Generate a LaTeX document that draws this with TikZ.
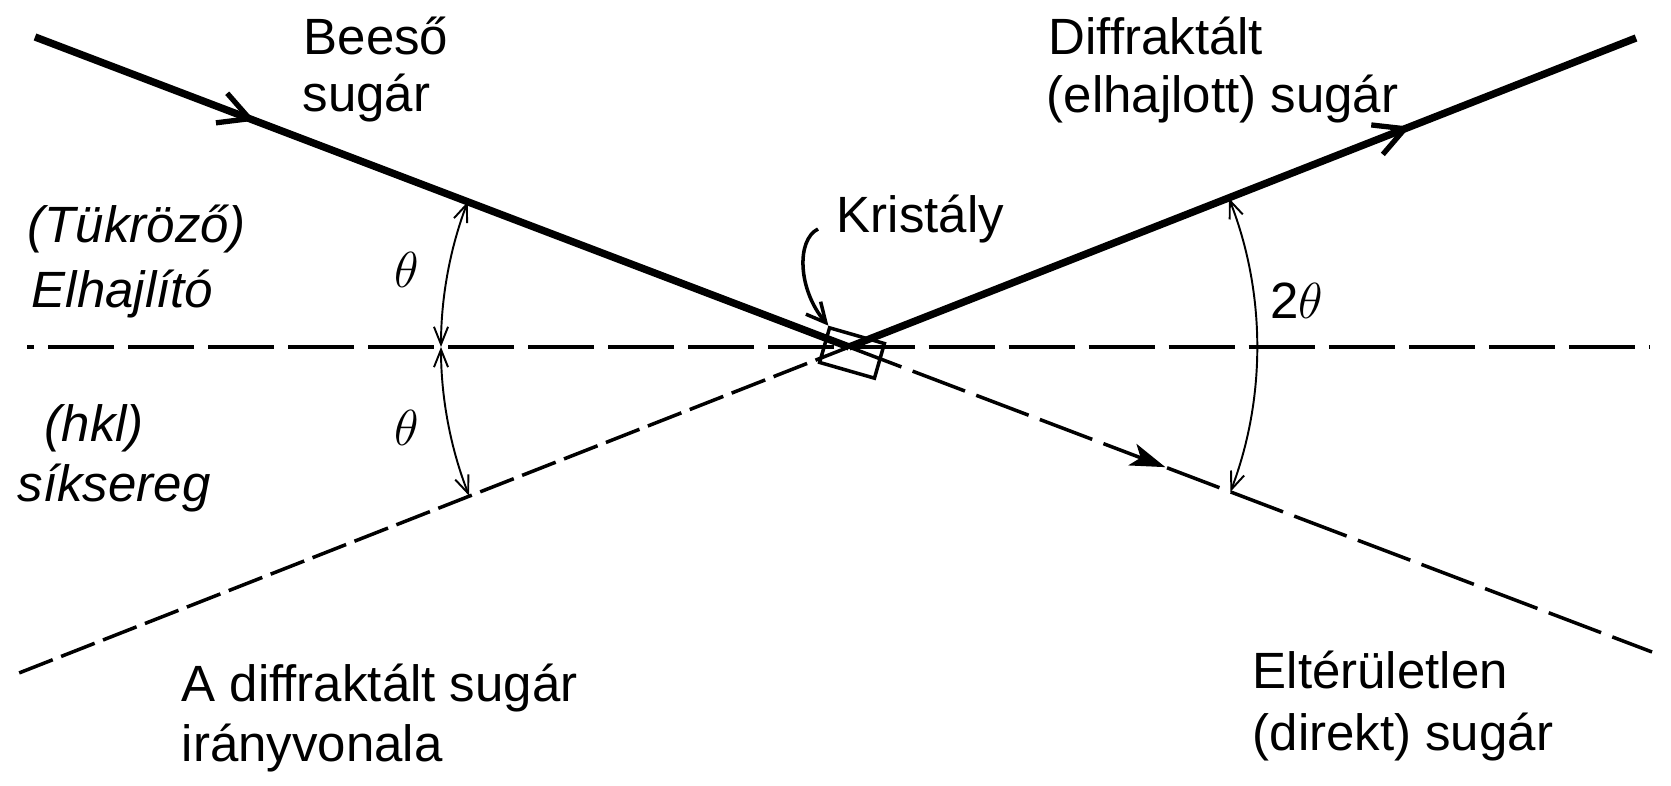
\documentclass[tikz,border=0pt]{standalone}
\usepackage{fontspec}
\setmainfont{Liberation Sans}
\usetikzlibrary{arrows.meta,calc,decorations.markings}

\tikzset{
    % sugarak
    beam/.style={line width=2.1pt},
    axisline/.style={line width=1.3pt, dash pattern=on 0.66cm off 0.14cm, dash phase=0.59cm},
    backline/.style={line width=1pt, dash pattern=on 0.36cm off 0.09cm},
    directline/.style={line width=1pt, dash pattern=on 0.56cm off 0.12cm},
    % szogek
    anglearc/.style={line width=0.55pt,
        {Straight Barb[length=5pt,width=4pt]}-{Straight Barb[length=5pt,width=4pt]}},
    midarrow/.style={postaction={decorate, decoration={markings,
        mark=at position #1 with {\arrow{Straight Barb[length=8.5pt,width=9pt,line width=1.5pt]}}}}},
    midstealth/.style={postaction={decorate, decoration={markings,
        mark=at position #1 with {\arrow{Stealth[length=10pt,width=6.5pt,inset=2.5pt]}}}}},
    pointer/.style={line width=1pt, -{Straight Barb[length=5.5pt,width=5.5pt]}},
    crystal/.style={draw, line width=1pt, minimum width=0.57cm, minimum height=0.36cm,
        inner sep=0pt, rotate=-16},
    txt/.style={font=\fontsize{14.5}{17}\selectfont, inner sep=0pt, anchor=base west},
    itxt/.style={txt, font=\fontsize{14.5}{17}\selectfont\itshape},
    greek/.style={font=\fontsize{14.5}{17}\selectfont, inner sep=0pt}
}

\begin{document}
\begin{tikzpicture}[x=0.01cm, y=-0.01cm]
  \useasboundingbox (0,0) rectangle (1671,786);
  \path
    (849,347) coordinate (C)
    (35,37) coordinate (src)
    (1636,38) coordinate (dif)
    (1652,652) coordinate (dir)
    (19,673) coordinate (back)
    (27,347) coordinate (hl)
    (1650,347) coordinate (hr)
    (818,229) coordinate (kp);

  % kristaly
  \node[crystal] (kr) at (852,353) {};

  % (hkl) sik
  \draw[axisline] (hl) -- (hr);

  % sugarak
  \draw[beam, midarrow=0.27] (src) -- (C);
  \draw[beam, midarrow=0.713] (C) -- (dif);
  \draw[directline, midstealth=0.394] (C) -- (dir);
  \draw[backline] (C) -- (back);

  % szogek
  \draw[anglearc] ($(C)+(200.85:408)$) arc[start angle=200.85, end angle=180, radius=408];
  \draw[anglearc] ($(C)+(180:408)$) arc[start angle=180, end angle=158.6, radius=408];
  \draw[anglearc] ($(C)+(338.6:408)$) arc[start angle=338.6, end angle=380.8, radius=408];
  \node[greek] (th1) at (407,270) {$\theta$};
  \node[greek] (th2) at (407,428) {$\theta$};
  \node[greek] (th3) at (1297,301) {2$\theta$};

  % kristaly felirat
  \node[txt] (krl) at (836,233) {Kristály};
  \draw[pointer] (kp) .. controls (796,240) and (798,290) .. (kr.north west);

  % feliratok
  \node[txt] (bees1) at (303,55) {Beeső};
  \node[txt] (bees2) at (302,112) {sugár};
  \node[txt] (dif1) at (1048,55) {Diffraktált};
  \node[txt] (dif2) at (1046,113) {(elhajlott) sugár};
  \node[itxt] (tuk) at (27,243) {(Tükröző)};
  \node[itxt] (elh) at (31,308) {Elhajlító};
  \node[itxt] (hkl) at (44,442) {(hkl)};
  \node[itxt] (sik) at (17,502) {síksereg};
  \node[txt] (ir1) at (181,701) {A diffraktált sugár};
  \node[txt] (ir2) at (181,761) {irányvonala};
  \node[txt] (elt1) at (1252,688) {Eltérületlen};
  \node[txt] (elt2) at (1252,750) {(direkt) sugár};
\end{tikzpicture}
\end{document}
